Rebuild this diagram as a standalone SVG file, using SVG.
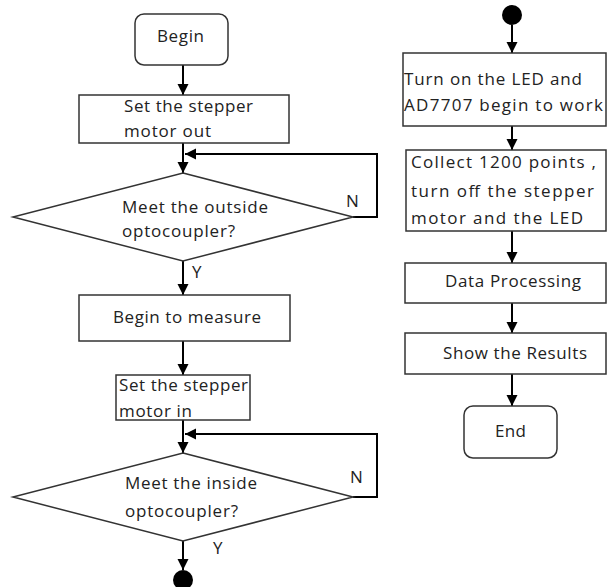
<svg xmlns="http://www.w3.org/2000/svg" width="607" height="587" viewBox="0 0 607 587">
<defs>
<marker id="ah" markerWidth="12" markerHeight="12" refX="11" refY="5.5" orient="auto" markerUnits="userSpaceOnUse">
<path d="M0,0 L11,5.5 L0,11 Z" fill="#000"/>
</marker>
<style>
.box{fill:#fff;stroke:#333;stroke-width:1.5}
.t{font-family:"Open Sans","Noto Sans",sans-serif;font-size:17px;fill:#222}
.ln{fill:none;stroke:#000;stroke-width:2}
</style>
</defs>
<rect width="607" height="587" fill="#fff"/>
<g id="connectors">
<line class="ln" x1="183" y1="65" x2="183" y2="95" marker-end="url(#ah)"/>
<line class="ln" x1="183" y1="143" x2="183" y2="173" marker-end="url(#ah)"/>
<polyline class="ln" points="353,217 377,217 377,154 185,154" marker-end="url(#ah)"/>
<line class="ln" x1="183" y1="261" x2="183" y2="295" marker-end="url(#ah)"/>
<line class="ln" x1="183" y1="341" x2="183" y2="375" marker-end="url(#ah)"/>
<line class="ln" x1="183" y1="420" x2="183" y2="453" marker-end="url(#ah)"/>
<polyline class="ln" points="353,497 377,497 377,434 185,434" marker-end="url(#ah)"/>
<line class="ln" x1="183" y1="541" x2="183" y2="570" marker-end="url(#ah)"/>
<line class="ln" x1="512" y1="25" x2="512" y2="53" marker-end="url(#ah)"/>
<line class="ln" x1="512" y1="126" x2="512" y2="150" marker-end="url(#ah)"/>
<line class="ln" x1="512" y1="231" x2="512" y2="263" marker-end="url(#ah)"/>
<line class="ln" x1="512" y1="303" x2="512" y2="333" marker-end="url(#ah)"/>
<line class="ln" x1="512" y1="374" x2="512" y2="406" marker-end="url(#ah)"/>
<text class="t" x="346" y="207">N</text>
<text class="t" x="192" y="278">Y</text>
<text class="t" x="350" y="483">N</text>
<text class="t" x="213" y="554">Y</text>
</g>
<g id="begin">
<rect class="box" x="135" y="14" width="93" height="51" rx="9"/>
<text class="t" x="157" y="42" textLength="47" lengthAdjust="spacing">Begin</text>
</g>
<g id="motor-out">
<rect class="box" x="79" y="95" width="210" height="48"/>
<text class="t" x="124" y="112" textLength="129" lengthAdjust="spacing">Set the stepper</text>
<text class="t" x="124" y="137" textLength="87" lengthAdjust="spacing">motor out</text>
</g>
<g id="outside">
<polygon class="box" points="183,173 353,217 183,261 13,217"/>
<text class="t" x="122" y="213" textLength="146" lengthAdjust="spacing">Meet the outside</text>
<text class="t" x="122" y="237" textLength="113" lengthAdjust="spacing">optocoupler?</text>
</g>
<g id="measure">
<rect class="box" x="79" y="295" width="211" height="46"/>
<text class="t" x="113" y="323" textLength="148" lengthAdjust="spacing">Begin to measure</text>
</g>
<g id="motor-in">
<rect class="box" x="116" y="375" width="134" height="45"/>
<text class="t" x="119" y="391" textLength="129" lengthAdjust="spacing">Set the stepper</text>
<text class="t" x="119" y="417" textLength="73" lengthAdjust="spacing">motor in</text>
</g>
<g id="inside">
<polygon class="box" points="183,453 353,497 183,541 13,497"/>
<text class="t" x="125" y="489" textLength="132" lengthAdjust="spacing">Meet the inside</text>
<text class="t" x="125" y="517" textLength="113" lengthAdjust="spacing">optocoupler?</text>
</g>
<g id="connector-a">
<circle cx="183" cy="580" r="10" fill="#000"/>
</g>
<g id="connector-b">
<circle cx="512" cy="15" r="10" fill="#000"/>
</g>
<g id="led-on">
<rect class="box" x="403" y="53" width="203" height="73"/>
<text class="t" x="404" y="85" textLength="178" lengthAdjust="spacing">Turn on the LED and</text>
<text class="t" x="404" y="111" textLength="199" lengthAdjust="spacing">AD7707 begin to work</text>
</g>
<g id="collect">
<rect class="box" x="406" y="150" width="200" height="81"/>
<text class="t" x="411" y="168" textLength="185" lengthAdjust="spacing">Collect 1200 points ,</text>
<text class="t" x="411" y="197" textLength="183" lengthAdjust="spacing">turn off the stepper</text>
<text class="t" x="411" y="224" textLength="172" lengthAdjust="spacing">motor and the LED</text>
</g>
<g id="process">
<rect class="box" x="405" y="263" width="201" height="40"/>
<text class="t" x="445" y="287" textLength="136" lengthAdjust="spacing">Data Processing</text>
</g>
<g id="results">
<rect class="box" x="405" y="333" width="201" height="41"/>
<text class="t" x="443" y="359" textLength="144" lengthAdjust="spacing">Show the Results</text>
</g>
<g id="end">
<rect class="box" x="464" y="406" width="93" height="52" rx="9"/>
<text class="t" x="495" y="437" textLength="31" lengthAdjust="spacing">End</text>
</g>
</svg>
